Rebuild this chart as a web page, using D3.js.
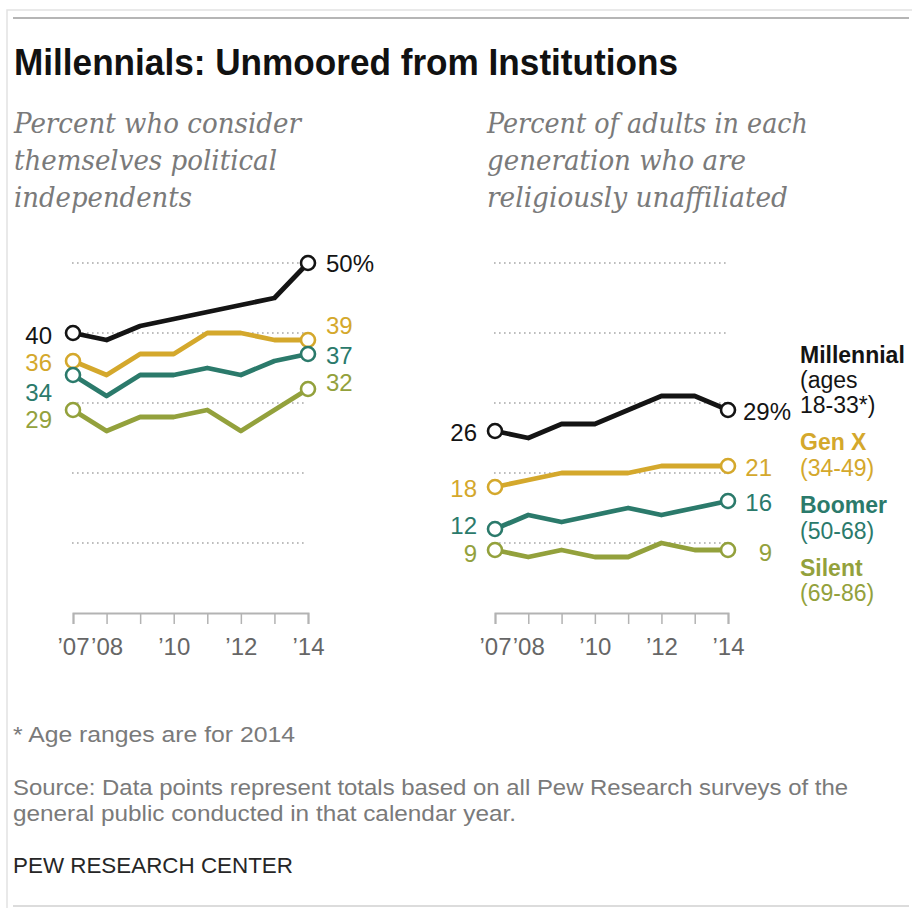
<!DOCTYPE html>
<html>
<head>
<meta charset="utf-8">
<script src="https://cdn.jsdelivr.net/npm/d3@7"></script>
<style>
  body { margin: 0; background: #fff; }
  svg { display: block; }
</style>
</head>
<body>
<script>
// ---- Data -------------------------------------------------------------
const years = [2007, 2008, 2009, 2010, 2011, 2012, 2013, 2014];
const tickYears = [2007, 2008, 2010, 2012, 2014];
const gridValues = [10, 20, 30, 40, 50];

const generations = ["Millennial", "Gen X", "Boomer", "Silent"];
const ageRanges = [["(ages", "18-33*)"], ["(34-49)"], ["(50-68)"], ["(69-86)"]];
const colors = ["#141414", "#d4a82c", "#2b7a6b", "#93a13c"];

// Percent who consider themselves political independents
const independentsMillennial = [40, 39, 41, 42, 43, 44, 45, 50];
const independentsGenX       = [36, 34, 37, 37, 40, 40, 39, 39];
const independentsBoomer     = [34, 31, 34, 34, 35, 34, 36, 37];
const independentsSilent     = [29, 26, 28, 28, 29, 26, 29, 32];

// Percent of adults in each generation who are religiously unaffiliated
const unaffiliatedMillennial = [26, 25, 27, 27, 29, 31, 31, 29];
const unaffiliatedGenX       = [18, 19, 20, 20, 20, 21, 21, 21];
const unaffiliatedBoomer     = [12, 14, 13, 14, 15, 14, 15, 16];
const unaffiliatedSilent     = [9, 8, 9, 8, 8, 10, 9, 9];

// ---- Page -------------------------------------------------------------
const W = 912, H = 908;
const SANS = "'Liberation Sans', Arial, sans-serif";
const SERIF = "'DejaVu Serif', Georgia, serif";

const svg = d3.select("body").append("svg")
  .attr("width", W).attr("height", H);

// frame and rules
svg.append("path").attr("d", `M7,${H} V10 H${W}`)
  .attr("fill", "none").attr("stroke", "#e2e2e2").attr("stroke-width", 1.5);
svg.append("line").attr("x1", 13).attr("x2", 909).attr("y1", 18).attr("y2", 18)
  .attr("stroke", "#b5b5b5").attr("stroke-width", 2);
svg.append("line").attr("x1", 13).attr("x2", 909).attr("y1", 906).attr("y2", 906)
  .attr("stroke", "#d0d0d0").attr("stroke-width", 1.5);

function fit(sel, w) {
  sel.attr("textLength", w).attr("lengthAdjust", "spacingAndGlyphs");
}

// title
svg.append("text").attr("x", 14).attr("y", 75)
  .attr("font-family", "'Liberation Sans Narrow', 'Liberation Sans', Arial, sans-serif")
  .attr("font-weight", "bold").attr("font-size", 37).attr("fill", "#111")
  .text("Millennials: Unmoored from Institutions")
  .call(fit, 664);

// subtitles
function subtitle(x, lines, widths) {
  lines.forEach((t, i) => {
    svg.append("text").attr("x", x).attr("y", 133 + i * 37)
      .attr("font-family", SERIF).attr("font-style", "italic")
      .attr("font-size", 27).attr("fill", "#7a7a7a")
      .text(t).call(fit, widths[i]);
  });
}
subtitle(14, ["Percent who consider", "themselves political", "independents"], [287, 263, 178]);
subtitle(487, ["Percent of adults in each", "generation who are", "religiously unaffiliated"], [321, 259, 301]);

// ---- Panels -----------------------------------------------------------
const y = d3.scaleLinear().domain([0, 50]).range([613, 263]);

function panel(cfg) {
  const x = d3.scaleLinear().domain([2007, 2014]).range(cfg.range);
  const g = svg.append("g");

  // dotted gridlines
  g.selectAll("line.grid").data(gridValues).join("line")
    .attr("class", "grid")
    .attr("x1", cfg.range[0] - 1).attr("x2", cfg.range[1] - 2)
    .attr("y1", d => y(d)).attr("y2", d => y(d))
    .attr("stroke", "#bdbdbd").attr("stroke-width", 2)
    .attr("stroke-dasharray", "1.6,3.4");

  // year axis
  const axis = g.append("g").attr("transform", `translate(0,${y(0)})`)
    .call(d3.axisBottom(x).tickValues(years).tickSize(11).tickSizeOuter(11)
      .tickFormat(d => tickYears.includes(d) ? "\u2019" + String(d).slice(2) : ""));
  axis.select(".domain").attr("stroke", "#b3b3b3").attr("stroke-width", 2);
  axis.selectAll(".tick line").attr("stroke", "#b3b3b3").attr("stroke-width", 1.5);
  axis.selectAll(".tick text")
    .attr("y", 42).attr("dy", 0)
    .attr("font-family", SANS).attr("font-size", 24).attr("fill", "#666");

  const line = d3.line().x((d, i) => x(years[i])).y(d => y(d));

  cfg.series.forEach((vals, k) => {
    g.append("path").datum(vals)
      .attr("d", line).attr("fill", "none")
      .attr("stroke", colors[k]).attr("stroke-width", 4.8)
      .attr("stroke-linejoin", "round").attr("stroke-linecap", "round");

    const ends = [0, vals.length - 1];
    g.selectAll(null).data(ends).join("circle")
      .attr("cx", i => x(years[i])).attr("cy", i => y(vals[i]))
      .attr("r", 7).attr("fill", "#fff")
      .attr("stroke", colors[k]).attr("stroke-width", 2.6);

    // starting value label
    g.append("text")
      .attr("x", x(years[0]) - cfg.startGap)
      .attr("y", y(vals[0]) + cfg.startDy[k]).attr("dy", "0.36em")
      .attr("text-anchor", "end")
      .attr("font-family", SANS).attr("font-size", 24).attr("fill", colors[k])
      .text(vals[0]);

    // ending value label
    const last = vals[vals.length - 1];
    const end = cfg.endPos[k];
    g.append("text")
      .attr("x", x(years[years.length - 1]) + end.dx)
      .attr("y", y(last) + cfg.endDy[k]).attr("dy", "0.36em")
      .attr("text-anchor", end.anchor)
      .attr("font-family", SANS).attr("font-size", 24).attr("fill", colors[k])
      .text(k === 0 ? last + "%" : last);
  });
  return x;
}

panel({
  range: [73, 308],
  series: [independentsMillennial, independentsGenX, independentsBoomer, independentsSilent],
  startGap: 21,
  startDy: [2, 1, 17, 9],
  endDy: [0, -15, 1, -7],
  endPos: [{dx: 18, anchor: "start"}, {dx: 18, anchor: "start"},
           {dx: 18, anchor: "start"}, {dx: 18, anchor: "start"}]
});

panel({
  range: [495, 728],
  series: [unaffiliatedMillennial, unaffiliatedGenX, unaffiliatedBoomer, unaffiliatedSilent],
  startGap: 18,
  startDy: [1, 1, -4, 3],
  endDy: [1, 1, 1, 2],
  endPos: [{dx: 15, anchor: "start"}, {dx: 44, anchor: "end"},
           {dx: 44, anchor: "end"}, {dx: 44, anchor: "end"}]
});

// ---- Generation legend -------------------------------------------------
const legendRows = [
  [363, 388, 413],
  [450, 476],
  [513, 539],
  [576, 601]
];
generations.forEach((name, k) => {
  const rows = legendRows[k];
  svg.append("text").attr("x", 800).attr("y", rows[0])
    .attr("font-family", SANS).attr("font-weight", "bold").attr("font-size", 23)
    .attr("fill", colors[k]).text(name);
  ageRanges[k].forEach((t, j) => {
    svg.append("text").attr("x", 800).attr("y", rows[j + 1])
      .attr("font-family", SANS).attr("font-size", 23)
      .attr("fill", colors[k]).text(t);
  });
});

// ---- Notes ------------------------------------------------------------
const notes = [
  {text: "* Age ranges are for 2014", y: 742, w: 282, fill: "#7a7a7a"},
  {text: "Source: Data points represent totals based on all Pew Research surveys of the", y: 795, w: 835, fill: "#7a7a7a"},
  {text: "general public conducted in that calendar year.", y: 821, w: 503, fill: "#7a7a7a"},
  {text: "PEW RESEARCH CENTER", y: 873, w: 280, fill: "#262626"}
];
notes.forEach(n => {
  svg.append("text").attr("x", 13).attr("y", n.y)
    .attr("font-family", SANS).attr("font-size", 22).attr("fill", n.fill)
    .text(n.text).call(fit, n.w);
});
</script>
</body>
</html>
